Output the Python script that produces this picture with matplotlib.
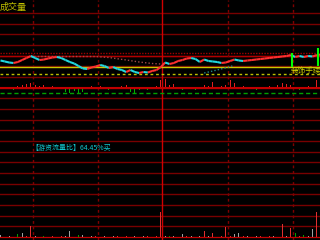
import numpy as np
import matplotlib
matplotlib.use("Agg")
import matplotlib.pyplot as plt
from matplotlib.collections import LineCollection

plt.rcParams['font.family'] = ['Noto Sans CJK SC', 'DejaVu Sans']

# one sample every 2 minutes, minute 0 = first dotted time line
minutes = list(range(-15, 134, 2))

price = [10.79, 10.77, 10.75, 10.74, 10.76, 10.80, 10.84, 10.88, 10.84, 10.80,
         10.81, 10.83, 10.85, 10.86, 10.84, 10.80, 10.76, 10.73, 10.68, 10.63,
         10.62, 10.65, 10.67, 10.70, 10.68, 10.64, 10.66, 10.62, 10.60, 10.56,
         10.60, 10.56, 10.54, 10.56, 10.55, 10.58, 10.60, 10.66, 10.75, 10.72,
         10.74, 10.78, 10.80, 10.83, 10.84, 10.82, 10.76, 10.81, 10.78, 10.77,
         10.76, 10.74, 10.75, 10.78, 10.81, 10.79, 10.78, 10.79, 10.80, 10.81,
         10.82, 10.83, 10.84, 10.85, 10.86, 10.87, 10.88, 10.90, 10.86, 10.88,
         10.86, 10.88, 10.87, 10.90, 10.91]

avg_price = 10.67
support_price = 10.52

# dotted pressure line and dotted cyan line
press_min = [-1, 29, 35, 43, 49, 55, 59]
press_val = [10.87, 10.87, 10.85, 10.80, 10.76, 10.73, 10.72]
trail_min = [79, 85, 92]
trail_val = [10.54, 10.60, 10.68]

# green signal marks: minute, low, high
signal_min = [119.5, 131.5]
signal_low = [10.66, 10.68]
signal_high = [10.94, 11.04]

flow = [1, -1, 1, -2, 2, 3, 4, 5, 3, 2, 3, 1, 2, 1, -1, -4, -5, -3, -5, -4,
        1, 2, 1, 2, -1, -2, 1, 1, 2, 3, -4, -5, -2, 1, -2, 1, 2, 8, 9, 3,
        4, -1, -2, 1, -1, -2, 1, 3, 2, 6, 1, 2, 3, 8, 5, 1, 2, 1, -1, -2,
        1, 1, 2, 1, 3, 5, 4, 3, -1, -2, 1, 2, 1, 8, 2]

volume = [300, 100, 150, 100, 400, 500, 150, 1100, 150, 100,
          150, 100, 200, 100, 150, 150, 700, 100, 300, 300,
          100, 150, 200, 100, 150, 100, 150, 200, 100, 150,
          100, 150, 100, 200, 150, 100, 150, 2400, 150, 200,
          150, 100, 400, 150, 200, 100, 150, 700, 150, 500,
          100, 150, 1000, 200, 400, 500, 150, 200, 100, 150,
          200, 100, 150, 200, 100, 1300, 150, 900, 500, 150,
          250, 200, 800, 2400, 300]
# 1 = buy, -1 = sell, 0 = neutral
trade_dir = [0, 1, 0, 1, -1, 0, 1, 1, 0, 1,
             -1, 0, 1, 0, 1, 0, 0, 1, -1, 0,
             1, 0, 1, -1, 0, 1, 0, 1, 0, 1,
             -1, 0, 1, 0, 1, 0, 1, 1, 0, -1,
             0, 1, 0, 1, 0, -1, 0, 1, 0, 1,
             0, 1, 1, 1, 0, 0, 1, 0, 1, 0,
             1, 0, 1, 0, 1, 1, 0, 1, -1, 1,
             -1, 0, 0, 1, 0]

W, H = 320, 240
XMIN, XMAX = -33 * 30 / 65, (W - 33) * 30 / 65


def rect(top, bottom):
    return [0, 1 - bottom / H, 1, (bottom - top) / H]


fig = plt.figure(figsize=(3.2, 2.4), dpi=100, facecolor='black')

# background grid in pixel space
bg = fig.add_axes([0, 0, 1, 1])
bg.set_facecolor('black')
bg.set_xlim(0, W)
bg.set_ylim(H, 0)
bg.axis('off')
for y in np.arange(13, H, 10.667):
    bg.axhline(y, color='#780000', lw=1)
bg.axhline(55.7, color='#b00000', lw=1)
bg.axhline(53, color='#a00000', lw=1, ls=(0, (1, 1)))
for x in [33, 98, 228, 293]:
    bg.axvline(x, color='#800000', lw=1, ls=(0, (2, 2)))
bg.axvline(161.5, color='#d00000', lw=1)

# price panel
ax = fig.add_axes(rect(0, 88))
ax.patch.set_alpha(0)
ax.set_xlim(XMIN, XMAX)
ax.set_ylim(10.24, 12.00)
ax.axis('off')
ax.axhline(avg_price, color='#c8c800', lw=1)
ax.axhline(support_price, color='#c0c000', lw=1, ls=(0, (2, 2)))
ax.plot(press_min, press_val, color='#a04848', lw=1, ls=(0, (1, 1.5)))
ax.plot(trail_min, trail_val, color='#208888', lw=1, ls=(0, (1, 1.5)))
pts = np.column_stack([minutes, price])
segs = np.stack([pts[:-1], pts[1:]], axis=1)
cols = ['#ff3030' if b > a else '#20d8e0' for a, b in zip(price[:-1], price[1:])]
ax.add_collection(LineCollection(segs, colors=cols, linewidths=1.5))
ax.vlines(signal_min, signal_low, signal_high, color='#00ff00', lw=1.5)

# flow indicator panel
ai = fig.add_axes(rect(78, 98))
ai.patch.set_alpha(0)
ai.set_xlim(XMIN, XMAX)
ai.set_ylim(-10, 10)
ai.axis('off')
ai.bar(minutes, flow, width=0.5,
       color=['#e02020' if v > 0 else '#00b000' for v in flow])
ai.axhline(0, color='#c00000', lw=1.5)
ai.axhline(-5, color='#00a000', lw=1, ls=(0, (3, 2)))

# volume panel
av = fig.add_axes(rect(99.3, 238))
av.patch.set_alpha(0)
av.set_xlim(XMIN, XMAX)
av.set_ylim(0, 13000)
av.axis('off')
vcol = {1: '#e03030', -1: '#00a000', 0: '#a0a0a0'}
av.bar(minutes, volume, width=0.5, color=[vcol[d] for d in trade_dir])
av.axhline(0, color='#c00000', lw=1.5)

# labels
bg.text(0, 7, '成交量', color='#c0c000', fontsize=6.5, va='center', ha='left')
bg.text(291, 70.5, '装饰手续', color='#d0d000', fontsize=5.5, va='center', ha='left')
bg.text(31, 148, '【游资流量比】64.45%买', color='#10c8d0', fontsize=5,
        va='center', ha='left')

fig.savefig('out.png', dpi=100, facecolor='black')
